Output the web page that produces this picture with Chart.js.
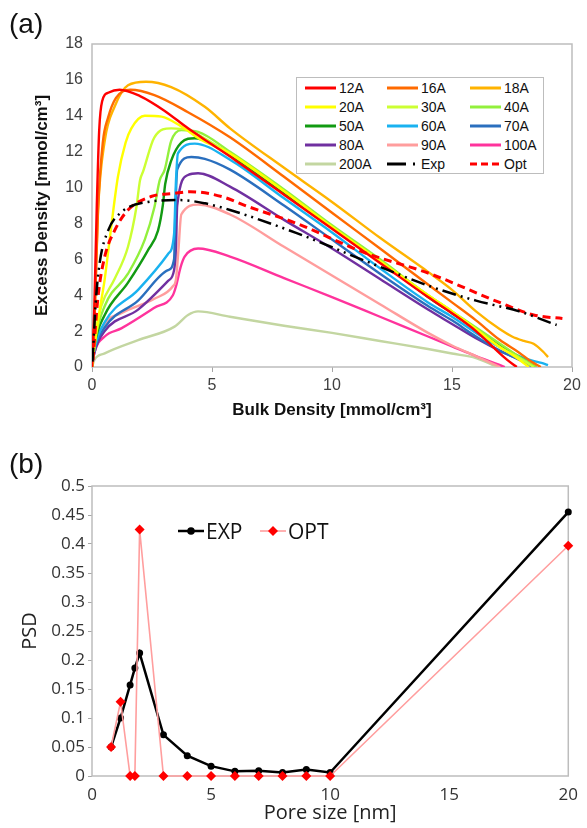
<!DOCTYPE html>
<html>
<head>
<meta charset="utf-8">
<title>Excess density and PSD</title>
<script src="https://cdn.jsdelivr.net/npm/chart.js@4.4.1/dist/chart.umd.min.js"></script>
<style>
  html, body { margin: 0; padding: 0; background: #fff; }
  #page { position: relative; width: 587px; height: 828px; overflow: hidden; }
  canvas { position: absolute; left: 0; }
  #chartA { top: 0; }
  #chartB { top: 425px; }
  .tag { position: absolute; left: 9px; font: 28px "Liberation Sans", Arial, sans-serif; color: #111; }
  #legendA {
    position: absolute; left: 296px; top: 77px; width: 248px; height: 97px;
    border: 1px solid #bdbdbd; box-sizing: border-box; background: #fff;
  }
  .lgA { position: absolute; height: 18px; display: flex; align-items: center;
         font: 14px "Liberation Sans", Arial, sans-serif; color: #111; white-space: nowrap; }
  .lgA svg { margin-right: 3px; }
  .lgB { position: absolute; top: 517px; height: 28px; display: flex; align-items: center;
         font: 21px "Open Sans", sans-serif; color: #111; }
  .lgB svg { margin-right: 2px; }
</style>
</head>
<body>
<div id="page">
  <canvas id="chartA" width="587" height="425"></canvas>
  <canvas id="chartB" width="587" height="403"></canvas>
  <div class="tag" style="top:8px">(a)</div>
  <div class="tag" style="top:448px">(b)</div>
  <div id="legendA"></div>
</div>
<script>
// ---- (a) excess density vs bulk density, [bulk, excess] pairs ----
const s12A = [[0,0],[0.1,3.5],[0.2,9],[0.3,13.2],[0.42,14.8],[0.7,15.3],[1.15,15.45],[2,15.1],[3,14.3],[4,13.3],[5,12.4],[6,11.5],[8,9.6],[10,7.7],[12,5.8],[14,3.9],[15,3.0],[16,2.0],[16.8,1.0],[17.3,0.4],[17.7,0]];
const s16A = [[0,0],[0.1,2.5],[0.25,8.7],[0.45,12.5],[0.67,13.9],[1.0,15.0],[1.6,15.45],[2.6,15.15],[4,14.2],[5.75,12.8],[8,10.6],[10,8.6],[12,6.6],[14,4.6],[15,3.6],[16,2.6],[17,1.5],[17.8,0.8],[18.3,0.3],[18.7,0]];
const s18A = [[0,0],[0.1,2.5],[0.25,8.7],[0.53,12.6],[0.94,14.5],[1.5,15.7],[2.25,15.9],[3.3,15.6],[4.7,14.5],[5.75,13.3],[8,11.1],[10,9.2],[12,7.2],[14,5.3],[15,4.3],[16,3.1],[17,2.1],[17.5,1.7],[18,1.45],[18.4,1.3],[18.8,0.85],[19,0.55]];
const s20A = [[0,0],[0.1,1.1],[0.3,3],[0.53,4.9],[0.8,7.8],[1.08,10.6],[1.4,12.5],[1.64,13.3],[2.2,14.0],[2.9,13.95],[3.72,13.4],[4.5,12.7],[5.75,11.9],[8,9.8],[10,7.8],[12,5.9],[14,4.0],[15,3.1],[16,2.1],[17,1.1],[17.6,0.6],[18.2,0]];
const s30A = [[0,0],[0.1,1.5],[0.39,3.4],[0.94,4.9],[1.5,6.7],[1.85,8.9],[2.0,10.4],[2.13,10.9],[2.6,12.8],[3.3,13.3],[4,13.2],[5,12.5],[5.75,11.9],[8,9.8],[10,7.8],[12,5.9],[14,4.0],[15,3.1],[16,2.1],[17,1.1],[17.8,0.5],[18.4,0]];
const s40A = [[0,0],[0.1,1.3],[0.53,3.4],[1.5,5.2],[2.2,7.1],[2.6,8.9],[2.82,10.4],[3.03,11.0],[3.3,12.6],[3.72,13.2],[4.42,13.1],[5.75,12.0],[8,9.9],[10,7.9],[12,6.0],[14,4.0],[15,3.1],[16,2.2],[17,1.3],[18,0.4],[18.5,0]];
const s50A = [[0,0],[0.1,1.2],[0.53,2.9],[1.5,4.7],[2.33,6.5],[2.75,7.6],[2.95,9.0],[3.05,10.2],[3.3,11.5],[3.72,12.5],[4.28,12.75],[5.75,11.8],[8,9.7],[10,7.8],[12,5.9],[14,3.9],[15,3.0],[16,2.1],[17,1.2],[18,0.4],[18.5,0]];
const s60A = [[0,0],[0.1,1.0],[0.53,2.5],[1.92,4.3],[3.17,6.3],[3.42,7.4],[3.5,10.4],[3.58,11.9],[4.28,12.45],[5.75,11.55],[8,9.4],[10,7.5],[12,5.5],[14,3.6],[15,2.8],[16,1.9],[17,1.1],[18,0.5],[18.5,0.3],[18.8,0.2],[19,0.1]];
const s70A = [[0,0],[0.1,0.9],[0.53,2.2],[1.92,3.7],[3.17,5.4],[3.42,6.0],[3.48,9.0],[3.55,11.0],[4.14,11.7],[4.7,11.6],[5.75,11.0],[8,9.0],[10,7.1],[12,5.2],[14,3.4],[15,2.6],[16,1.7],[17,0.9],[18,0.3],[18.4,0]];
const s80A = [[0,0],[0.1,0.8],[0.53,2.0],[1.92,3.2],[3.17,4.8],[3.42,5.4],[3.5,6.7],[3.55,9.0],[4,10.7],[4.42,10.8],[5.75,10.05],[8,8.2],[10,6.6],[12,4.9],[14,3.2],[15,2.4],[16,1.6],[17,0.9],[17.5,0.6],[18.4,0]];
const s90A = [[0,0],[0.1,0.9],[0.53,2.4],[1.22,3.0],[2.6,3.8],[3.37,4.5],[3.5,4.9],[3.6,6.5],[3.72,8.5],[4.42,9.05],[5.75,8.5],[8,6.7],[10,5.1],[12,3.5],[14,1.9],[15,1.2],[16,0.6],[17,0]];
const s100A = [[0,0],[0.1,0.8],[0.53,1.7],[1.22,2.15],[2.6,3.3],[3.37,4.0],[3.5,4.5],[3.7,5.6],[3.86,6.15],[4.42,6.6],[5.75,6.15],[8,4.95],[10,3.9],[12,2.8],[14,1.7],[15,1.15],[16,0.6],[17.2,0]];
const s200A = [[0,0],[0.1,0.4],[0.53,0.76],[1.92,1.5],[3.44,2.25],[4.0,2.9],[4.42,3.1],[5.75,2.8],[8,2.3],[10,1.9],[12,1.45],[14,1.0],[15,0.75],[16,0.5],[16.9,0]];
const sExp = [[0.02,0.3],[0.05,1.0],[0.15,3.5],[0.32,5.8],[0.67,7.6],[1.2,8.6],[2.33,9.2],[3.7,9.3],[4.7,9.12],[5.75,8.75],[8.53,7.46],[11.3,5.96],[14.08,4.5],[16,3.7],[17.8,3.1],[19.36,2.34]];
const sOpt = [[0.04,0.4],[0.25,3.9],[0.53,6.15],[0.94,7.6],[1.5,8.75],[2.46,9.5],[3.44,9.68],[4.1,9.77],[5.4,9.5],[6.5,8.94],[8.53,8.0],[11.3,6.4],[14.08,5.2],[16.9,3.64],[18.4,2.9],[19.6,2.7]];

const poreNames = ['12A','16A','18A','20A','30A','40A','50A','60A','70A','80A','90A','100A','200A'];
const poreSeries = [s12A, s16A, s18A, s20A, s30A, s40A, s50A, s60A, s70A, s80A, s90A, s100A, s200A];
const bulkTicks = [0, 5, 10, 15, 20];
const excessTicks = [0, 2, 4, 6, 8, 10, 12, 14, 16, 18];

// ---- (b) pore size distribution ----
const poreSize = [0.8, 1.2, 1.6, 1.8, 2, 3, 4, 5, 6, 7, 8, 9, 10, 20];
const psdExp = [0.05, 0.1, 0.157, 0.186, 0.212, 0.071, 0.035, 0.017, 0.008, 0.009, 0.006, 0.011, 0.006, 0.455];
const psdOpt = [0.05, 0.128, 0, 0, 0.425, 0, 0, 0, 0, 0, 0, 0, 0, 0.397];
const poreTicks = [0, 5, 10, 15, 20];
const psdTicks = [0, 0.05, 0.1, 0.15, 0.2, 0.25, 0.3, 0.35, 0.4, 0.45, 0.5];
const psdTickLabels = ['0', '0.05', '0.1', '0.15', '0.2', '0.25', '0.3', '0.35', '0.4', '0.45', '0.5'];

// couleurs des courbes (meme ordre que poreNames)
const poreColors = ['#ff0000','#ff6a00','#ffb300','#ffff00','#ccff33','#92f03c','#129a12','#19b2f0','#2a6fbe','#7030a0','#ff9d9d','#ff339c','#c3d6a1'];

const ARIAL = '"Liberation Sans", Arial, sans-serif';
const CALIBRI = '"Open Sans", sans-serif';

// cadre gris autour de la zone de trace
const plotFrame = {
  id: 'plotFrame',
  beforeDatasetsDraw(chart) {
    const { ctx, chartArea: a } = chart;
    ctx.save();
    ctx.strokeStyle = '#bdbdbd';
    ctx.lineWidth = 1.5;
    ctx.strokeRect(a.left, a.top, a.right - a.left, a.bottom - a.top);
    ctx.restore();
  }
};

const toXY = pts => pts.map(([x, y]) => ({ x, y }));

/* ---------- chart (a) ---------- */
const dsA = poreNames.map((name, i) => ({
  label: name,
  data: toXY(poreSeries[i]),
  borderColor: poreColors[i],
  borderWidth: 2.4,
  pointRadius: 0,
  cubicInterpolationMode: 'monotone',
  order: 1
}));
dsA.push({ label: 'Exp', data: toXY(sExp), borderColor: '#000', borderWidth: 2.5,
  borderDash: [14, 5, 2, 5, 2, 5], pointRadius: 0, cubicInterpolationMode: 'monotone', order: 0 });
dsA.push({ label: 'Opt', data: toXY(sOpt), borderColor: '#ff0000', borderWidth: 3,
  borderDash: [8, 5], pointRadius: 0, cubicInterpolationMode: 'monotone', order: 0 });

const chartA = new Chart(document.getElementById('chartA'), {
  type: 'line',
  data: { datasets: dsA },
  options: {
    responsive: false,
    animation: false,
    devicePixelRatio: 1,
    layout: { padding: { top: 44, right: 15, left: 0, bottom: 0 } },
    plugins: { legend: { display: false }, tooltip: { enabled: false } },
    scales: {
      x: {
        type: 'linear', min: 0, max: 20,
        afterBuildTicks: s => { s.ticks = bulkTicks.map(v => ({ value: v })); },
        afterFit: s => { s.height = 58; },
        grid: { drawOnChartArea: false, tickColor: '#a6a6a6', tickLength: 5 },
        border: { display: false },
        ticks: { padding: 4, color: '#404040', maxRotation: 0, font: { family: ARIAL, size: 16 } },
        title: { display: true, text: 'Bulk Density [mmol/cm³]', color: '#111',
          font: { family: ARIAL, size: 17, weight: 'bold' }, padding: { top: 0, bottom: 4 } }
      },
      y: {
        min: 0, max: 18,
        afterBuildTicks: s => { s.ticks = excessTicks.map(v => ({ value: v })); },
        afterFit: s => { s.width = 92; },
        grid: { drawOnChartArea: false, drawTicks: false },
        border: { display: false },
        ticks: { padding: 9, color: '#404040', font: { family: ARIAL, size: 16 } },
        title: { display: true, text: 'Excess Density [mmol/cm³]', color: '#111',
          font: { family: ARIAL, size: 17, weight: 'bold' }, padding: { top: 32, bottom: 0 } }
      }
    }
  },
  plugins: [plotFrame]
});

/* ---------- chart (b) ---------- */
const chartB = new Chart(document.getElementById('chartB'), {
  type: 'line',
  data: {
    labels: poreSize,
    datasets: [
      { label: 'EXP', data: poreSize.map((x, i) => ({ x, y: psdExp[i] })), borderColor: '#000',
        backgroundColor: '#000', borderWidth: 2.5, pointRadius: 3.5, pointStyle: 'circle',
        pointBorderWidth: 0, tension: 0, clip: false, order: 1 },
      { label: 'OPT', data: poreSize.map((x, i) => ({ x, y: psdOpt[i] })), borderColor: '#ff9e9e',
        backgroundColor: '#ff0000', pointBorderColor: '#ff0000', borderWidth: 1.6, pointRadius: 5,
        pointStyle: 'rectRot', pointBorderWidth: 0, tension: 0, clip: false, order: 0 }
    ]
  },
  options: {
    responsive: false,
    animation: false,
    devicePixelRatio: 1,
    layout: { padding: { top: 61, right: 15, left: 0, bottom: 0 } },
    plugins: { legend: { display: false }, tooltip: { enabled: false } },
    scales: {
      x: {
        type: 'linear', min: 0, max: 20,
        afterBuildTicks: s => { s.ticks = poreTicks.map(v => ({ value: v })); },
        afterFit: s => { s.height = 52; },
        grid: { drawOnChartArea: false, drawTicks: false },
        border: { display: false },
        ticks: { padding: 9, color: '#333', maxRotation: 0, font: { family: CALIBRI, size: 17 } },
        title: { display: true, text: 'Pore size [nm]', color: '#222',
          font: { family: CALIBRI, size: 20 }, padding: { top: 0, bottom: 3 } }
      },
      y: {
        min: 0, max: 0.5,
        afterBuildTicks: s => { s.ticks = psdTicks.map(v => ({ value: v })); },
        afterFit: s => { s.width = 92; },
        grid: { drawOnChartArea: false, tickColor: '#a6a6a6', tickLength: 4 },
        border: { display: false },
        ticks: { padding: 3, color: '#333', font: { family: CALIBRI, size: 17 },
          callback: (v, i) => psdTickLabels[i] },
        title: { display: true, text: 'PSD', color: '#222',
          font: { family: CALIBRI, size: 20 }, padding: { top: 18, bottom: 0 } }
      }
    }
  },
  plugins: [plotFrame]
});

/* ---------- legendes HTML ---------- */
const page = document.getElementById('page');
const boxA = document.getElementById('legendA');
const legColX = [8, 90, 173];
const legRowY = [1, 20, 39, 58, 77];

chartA.data.datasets.forEach((ds, i) => {
  const item = document.createElement('div');
  item.className = 'lgA';
  item.style.left = legColX[i % 3] + 'px';
  item.style.top = legRowY[Math.floor(i / 3)] + 'px';
  let dash = '';
  if (ds.label === 'Exp') dash = 'stroke-dasharray="19,7,2,20"';
  if (ds.label === 'Opt') dash = 'stroke-dasharray="7,4"';
  item.innerHTML = '<svg width="31" height="6"><line x1="0" y1="3" x2="31" y2="3" stroke="' +
    ds.borderColor + '" stroke-width="3" ' + dash + '/></svg>' + ds.label;
  boxA.appendChild(item);
});

const legBX = [178, 260];
chartB.data.datasets.forEach((ds, i) => {
  const item = document.createElement('div');
  item.className = 'lgB';
  item.style.left = legBX[i] + 'px';
  const marker = ds.pointStyle === 'circle'
    ? '<circle cx="13" cy="7" r="3.8" fill="' + ds.backgroundColor + '"/>'
    : '<polygon points="13,2 18,7 13,12 8,7" fill="' + ds.backgroundColor + '"/>';
  item.innerHTML = '<svg width="26" height="14"><line x1="0" y1="7" x2="26" y2="7" stroke="' +
    ds.borderColor + '" stroke-width="' + ds.borderWidth + '"/>' + marker + '</svg>' + ds.label;
  page.appendChild(item);
});
</script>
</body>
</html>
